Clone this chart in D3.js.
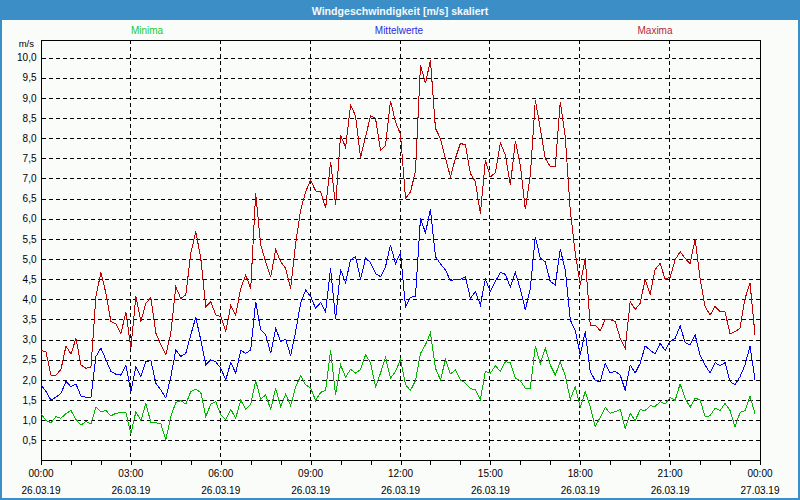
<!DOCTYPE html>
<html><head><meta charset="utf-8">
<script src="https://cdn.jsdelivr.net/npm/d3@7"></script>
<style>body{margin:0;background:#fff}svg{display:block}</style>
</head><body><svg id="c" width="800" height="500"></svg>
<script>
// ---- data (10-minute values, 26.03.19) ----
const startTime = new Date(2019, 2, 26, 0, 0);
const stepMinutes = 10;
const seriesNames = ["Minima", "Mittelwerte", "Maxima"];
const maxima = [2.74,2.69,2.12,2.12,2.26,2.84,2.64,3.03,2.37,2.29,2.31,4.07,4.67,4.15,3.45,3.39,3.14,3.69,2.79,
4.07,3.45,3.9,4.05,3.16,2.87,2.62,3.16,4.31,4.02,4.11,5.14,5.68,5.02,3.82,3.94,3.61,3.57,
3.2,3.84,3.61,4.27,4.6,4.27,6.63,5.35,4.93,4.55,5.24,4.93,4.77,4.27,5.39,6.21,6.67,6.96,
6.69,6.67,6.26,7.41,6.33,8.07,7.77,8.82,8.55,7.52,8.03,8.55,8.49,7.69,7.82,8.93,8.4,8.1,
6.5,6.67,7.17,9.81,9.36,9.93,8.24,7.99,7.5,7.04,7.5,7.87,7.83,7.12,6.92,6.12,7.45,7.04,
7.14,7.88,7.58,6.83,7.93,7.33,6.23,7.08,8.94,8.24,7.5,7.29,7.29,8.9,8.03,6.21,5.14,4.36,
5.02,3.36,3.36,3.22,3.5,3.5,3.45,3.03,2.79,3.94,3.75,3.9,4.5,4.13,4.74,4.89,4.5,4.55,
4.98,5.18,5.02,4.88,5.49,4.52,3.82,3.61,3.82,3.69,3.69,3.14,3.2,3.28,4.02,4.4,3.12];
const mittelwerte = [1.88,1.71,1.5,1.57,1.67,1.96,1.83,1.9,1.6,1.57,1.55,2.58,2.79,2.5,2.21,2.14,2.12,2.37,1.71,
2.33,2.08,2.45,2.48,1.92,1.75,1.55,2.08,2.74,2.58,2.66,3.12,3.55,2.99,2.37,2.5,2.45,2.29,
2.0,2.43,2.17,2.73,2.66,2.74,3.94,3.24,3.12,2.66,3.28,2.95,3.01,2.6,3.2,3.9,4.23,4.07,
3.78,3.92,3.69,4.77,3.5,4.74,4.41,4.98,5.06,4.5,5.02,4.91,4.64,4.56,4.81,5.35,4.88,5.16,
3.82,4.05,4.07,6.01,5.65,6.23,5.06,4.88,4.73,4.46,4.5,4.5,4.56,4.02,4.19,3.86,4.5,4.19,
4.44,4.67,4.62,4.3,4.67,4.25,3.74,4.27,5.55,5.02,4.93,4.44,4.36,5.24,4.73,3.49,3.22,2.62,
3.2,2.21,1.98,1.96,2.41,2.17,2.21,2.12,1.75,2.37,2.17,2.41,2.84,2.74,2.64,2.91,2.73,2.95,
3.03,3.34,2.93,2.87,3.12,2.62,2.37,2.17,2.43,2.35,2.43,1.96,1.88,2.08,2.37,2.84,2.0];
const minima = [1.16,0.99,0.94,1.09,1.05,1.16,1.24,1.02,0.88,0.97,0.91,1.32,1.21,1.24,1.11,1.17,1.19,1.19,0.66,
1.21,0.99,1.42,0.94,0.94,0.91,0.51,1.09,1.44,1.49,1.4,1.71,1.77,1.69,1.09,1.4,1.46,1.13,
1.02,1.27,1.05,1.5,1.27,1.4,1.98,1.52,1.63,1.27,1.79,1.34,1.65,1.36,1.83,2.1,1.88,1.8,
1.49,1.69,1.74,2.73,1.63,2.37,2.07,2.26,2.17,2.26,2.62,2.43,1.83,2.17,2.56,2.04,2.21,2.5,
1.88,1.74,1.98,2.66,2.87,3.17,2.29,2.0,2.5,2.15,2.25,2.0,1.92,1.79,1.75,1.52,2.21,2.17,
2.35,2.21,2.45,2.43,2.04,1.98,1.79,1.79,2.84,2.4,2.79,2.37,2.12,2.45,2.1,1.52,1.83,1.32,
1.71,1.34,0.84,1.07,1.32,1.17,1.21,1.27,0.8,1.17,0.99,1.26,1.24,1.36,1.34,1.46,1.4,1.57,
1.49,1.9,1.55,1.32,1.55,1.5,1.09,1.11,1.3,1.24,1.42,1.24,0.83,1.19,1.24,1.6,1.16];
const yTickValues = [0.5,1.0,1.5,2.0,2.5,3.0,3.5,4.0,4.5,5.0,5.5,6.0,6.5,7.0,7.5,8.0,8.5,9.0,9.5,10.0];
const titleText = "Windgeschwindigkeit [m/s] skaliert";
const unitText = "m/s";

// ---- layout ----
const W = 800, H = 500;
const L = 41, R = 760, T = 40, B = 460;
const svg = d3.select("#c");
const FONT = "'Liberation Sans', Arial, sans-serif";

svg.append("rect").attr("x",0).attr("y",0).attr("width",W).attr("height",H).attr("fill","#fafcfa");
svg.append("rect").attr("x",1).attr("y",1).attr("width",W-2).attr("height",H-2)
  .attr("fill","none").attr("stroke","#3c8fc6").attr("stroke-width",2).attr("shape-rendering","crispEdges");
svg.append("rect").attr("x",0).attr("y",0).attr("width",W).attr("height",20).attr("fill","#3c8fc6");
svg.append("text").attr("x",400).attr("y",15).attr("text-anchor","middle")
  .attr("font-family",FONT).attr("font-weight","bold").attr("font-size","10.6px").attr("fill","#f4f8fc").text(titleText);

const endTime = new Date(startTime.getTime() + 24*3600*1000);
const x = d3.scaleTime().domain([startTime, endTime]).range([L, R]);
const y = d3.scaleLinear().domain([0, 10.0]).range([B + 0.5, 57.5]);
const timeOf = i => new Date(startTime.getTime() + i*stepMinutes*60000);

// horizontal dashed grid
svg.append("g").selectAll("line").data(yTickValues).join("line")
  .attr("x1", L+1).attr("x2", R).attr("y1", d => Math.round(y(d))+0.5).attr("y2", d => Math.round(y(d))+0.5)
  .attr("stroke","#000").attr("stroke-dasharray","4,3").attr("shape-rendering","crispEdges");

// vertical dashed grid every 3h
const majorTicks = d3.timeHour.every(3).range(startTime, new Date(endTime.getTime()+1));
svg.append("g").selectAll("line").data(majorTicks.filter(d => +d > +startTime && +d < +endTime)).join("line")
  .attr("x1", d => Math.round(x(d))-0.5).attr("x2", d => Math.round(x(d))-0.5).attr("y1", T).attr("y2", B)
  .attr("stroke","#000").attr("stroke-dasharray","4,3").attr("shape-rendering","crispEdges");

// frame
svg.append("path").attr("d", `M${L+0.5},${T+0.5}H${R+0.5}V${B+0.5}H${L+0.5}Z`)
  .attr("fill","none").attr("stroke","#000").attr("shape-rendering","crispEdges");

// x axis (hourly ticks, labels every 3h)
const xAxis = d3.axisBottom(x).tickValues(d3.timeHour.every(1).range(startTime, new Date(endTime.getTime()+1)))
  .tickSize(4).tickFormat("");
const gx = svg.append("g").attr("transform", `translate(0,${B+0.5})`).call(xAxis);
gx.select(".domain").remove();
gx.selectAll("line").attr("stroke","#000").attr("shape-rendering","crispEdges");
const lab = svg.append("g").attr("font-family",FONT).attr("font-size","10px").attr("fill","#000").attr("text-anchor","middle");
lab.selectAll("text.t").data(majorTicks).join("text").attr("class","t")
  .attr("x", d => x(d)).attr("y", 477).text(d3.timeFormat("%H:%M"));
lab.selectAll("text.d").data(majorTicks).join("text").attr("class","d")
  .attr("x", d => x(d)).attr("y", 494).text(d3.timeFormat("%d.%m.%y"));

// y axis labels
const fmt = d => d3.format(".1f")(d).replace(".", ",");
const gy = svg.append("g").attr("transform", `translate(${L+0.5},0)`)
  .call(d3.axisLeft(y).tickValues(yTickValues).tickSize(0).tickPadding(5).tickFormat(fmt));
gy.select(".domain").remove();
gy.selectAll("text").attr("font-family",FONT).attr("font-size","10px").attr("fill","#000");
svg.append("text").attr("x",34).attr("y",47).attr("text-anchor","end")
  .attr("font-family",FONT).attr("font-size","9.5px").attr("fill","#000").text(unitText);

// legend
const colors = {Minima:"#00b400", Mittelwerte:"#0000ff", Maxima:"#c00000"};
const legendColors = {Minima:"#1ec81e", Mittelwerte:"#2a2ae6", Maxima:"#b8283c"};
const legendX = {Minima:147, Mittelwerte:399, Maxima:655};
svg.append("g").selectAll("text").data(seriesNames).join("text")
  .attr("x", d => legendX[d]).attr("y", 34).attr("text-anchor","middle")
  .attr("font-family",FONT).attr("font-size","10px").attr("fill", d => legendColors[d]).text(d => d);

// lines
const line = d3.line().x((d,i) => x(timeOf(i))).y(d => y(d));
const dataBy = {Minima:minima, Mittelwerte:mittelwerte, Maxima:maxima};
seriesNames.forEach(n => {
  svg.append("path").datum(dataBy[n]).attr("d", line).attr("fill","none")
    .attr("stroke", colors[n]).attr("stroke-width",1).attr("shape-rendering","crispEdges");
});
</script></body></html>
